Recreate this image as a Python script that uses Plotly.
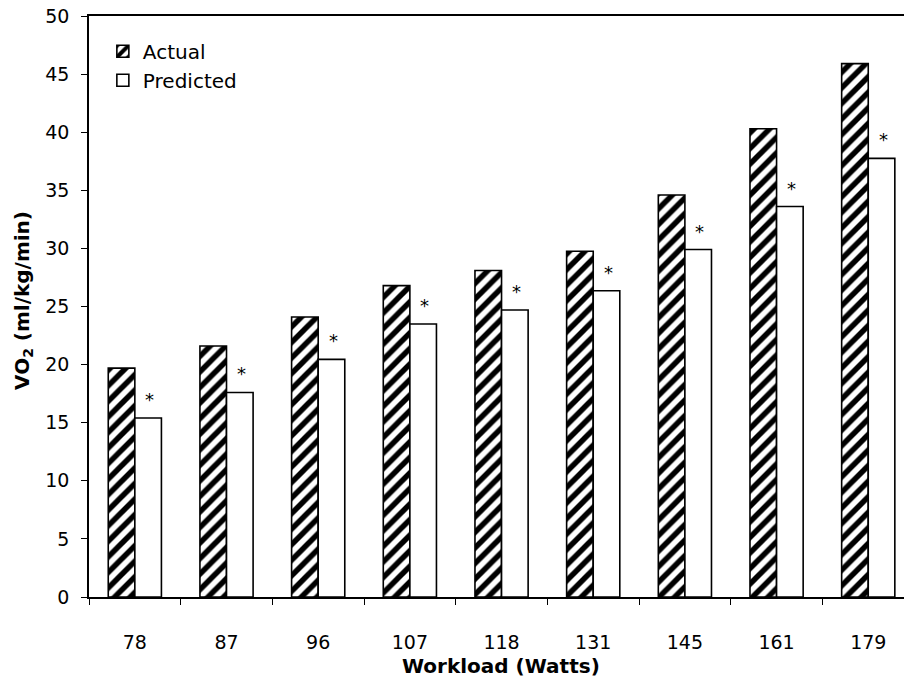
import plotly.graph_objects as go

workload = ["78", "87", "96", "107", "118", "131", "145", "161", "179"]
actual = [19.7, 21.6, 24.1, 26.8, 28.1, 29.75, 34.6, 40.3, 45.9]
predicted = [15.4, 17.6, 20.45, 23.5, 24.7, 26.35, 29.9, 33.6, 37.75]
y_ticks = [0, 5, 10, 15, 20, 25, 30, 35, 40, 45, 50]
marker_text = "*"

FONT = "DejaVu Sans, Verdana, sans-serif"

fig = go.Figure()
fig.add_trace(go.Bar(
    x=workload, y=actual, name="Actual", legendgroup="a",
    marker=dict(color="white", line=dict(color="black", width=1.6),
                pattern=dict(shape="/", fgcolor="black", bgcolor="white",
                             size=11, solidity=0.5, fgopacity=1)),
))
fig.add_trace(go.Bar(
    x=workload, y=predicted, name="Predicted", legendgroup="b",
    marker=dict(color="white", line=dict(color="black", width=1.6)),
))

for i, val in enumerate(predicted):
    fig.add_annotation(x=i, y=val, xref="x", yref="y", text=marker_text,
                       showarrow=False, xshift=15, yshift=6, yanchor="bottom",
                       font=dict(family=FONT, size=18, color="black"))

fig.add_annotation(text="<b>Workload (Watts)</b>", xref="paper", yref="paper",
                   x=(501 - 89) / 815, y=0, yshift=-69, yanchor="middle",
                   showarrow=False, font=dict(family=FONT, size=20, color="black"))
fig.add_annotation(text="<b>VO<sub>2</sub> (ml/kg/min)</b>", xref="paper", yref="paper",
                   x=0, xshift=-66, y=(597 - 301) / 581, textangle=-90, xanchor="center",
                   yanchor="middle",
                   showarrow=False, font=dict(family=FONT, size=20, color="black"))

fig.update_layout(
    width=904, height=679,
    margin=dict(l=89, r=0, t=16, b=82),
    paper_bgcolor="white", plot_bgcolor="white",
    barmode="group", bargap=0.42, bargroupgap=0,
    font=dict(family=FONT, size=19, color="black"),
    showlegend=True,
    legend=dict(x=0.017, y=0.973, xanchor="left", yanchor="top",
                bgcolor="rgba(0,0,0,0)", font=dict(family=FONT, size=20),
                tracegroupgap=5, traceorder="normal"),
    xaxis=dict(type="category", range=[-0.5, 8.39], showline=True, mirror=True,
               linecolor="black", linewidth=1.5, ticks="outside", ticklen=6,
               tickwidth=1.2, tickcolor="black", tickson="boundaries",
               ticklabelstandoff=27, showgrid=False, zeroline=False,
               tickfont=dict(family=FONT, size=19)),
    yaxis=dict(range=[0, 50], tickvals=y_ticks, showline=True, linecolor="black",
               linewidth=1.5, ticks="outside", ticklen=6, tickwidth=1.2,
               tickcolor="black", showgrid=False, zeroline=False,
               ticklabelstandoff=8, tickfont=dict(family=FONT, size=19)),
)

fig.write_html("out.html")
